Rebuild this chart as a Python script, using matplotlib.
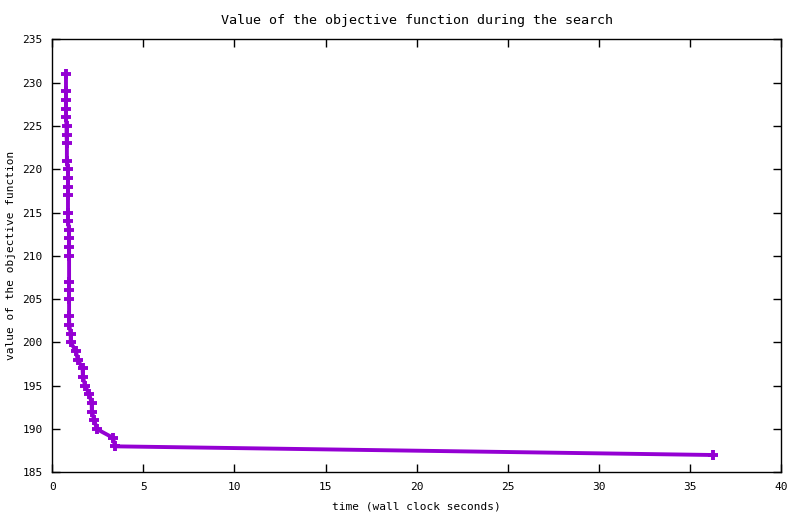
import matplotlib
matplotlib.use("Agg")
import matplotlib.pyplot as plt

# objective value found at each improvement (time in wall clock seconds)
times = [0.75, 0.75, 0.75, 0.75, 0.75, 0.78, 0.78, 0.80, 0.80, 0.86,
         0.86, 0.86, 0.86, 0.86, 0.86, 0.92, 0.92, 0.92, 0.92, 0.92,
         0.92, 0.92, 0.92, 0.93, 1.01, 1.01, 1.29, 1.40, 1.66, 1.68,
         1.80, 2.03, 2.16, 2.17, 2.31, 2.44, 3.32, 3.45, 36.25]
values = [231, 229, 228, 227, 226, 225, 224, 223, 221, 220,
          219, 218, 217, 215, 214, 213, 212, 211, 210, 207,
          206, 205, 203, 202, 201, 200, 199, 198, 197, 196,
          195, 194, 193, 192, 191, 190, 189, 188, 187]

xticks = [0, 5, 10, 15, 20, 25, 30, 35, 40]
yticks = [185, 190, 195, 200, 205, 210, 215, 220, 225, 230, 235]

plt.rcParams["font.family"] = "DejaVu Sans Mono"
plt.rcParams["font.size"] = 8

fig = plt.figure(figsize=(8, 5.14), dpi=100)
ax = fig.add_axes([0.0654, 0.0811, 0.9106, 0.8424])

ax.plot(times, values, color="#9400d3", lw=2.8, marker="+",
        markersize=7, markeredgewidth=2.8)

ax.set_xlim(0, 40)
ax.set_ylim(185, 235)
ax.set_xticks(xticks)
ax.set_yticks(yticks)
ax.tick_params(direction="in", length=6, width=1, top=True, right=True,
               pad=7)
for s in ax.spines.values():
    s.set_linewidth(1)

ax.set_title("Value of the objective function during the search", pad=11)
ax.set_xlabel("time (wall clock seconds)", labelpad=7)
ax.set_ylabel("value of the objective function")
ax.yaxis.set_label_coords(-0.050, 0.5)

fig.savefig("out.png", dpi=100)
